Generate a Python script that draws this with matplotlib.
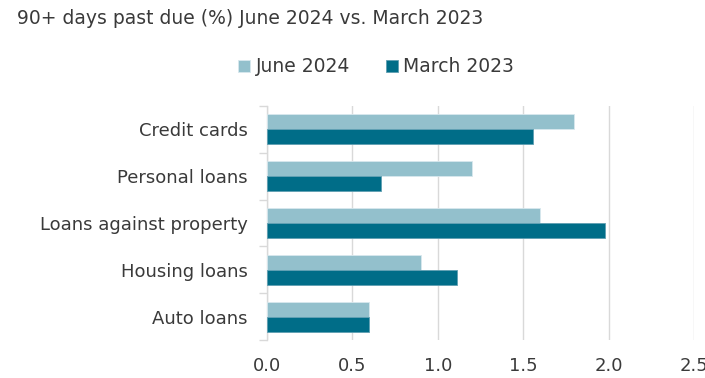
import matplotlib
matplotlib.use("Agg")
import matplotlib.pyplot as plt
import numpy as np

plt.rcParams['font.family'] = ['DejaVu Sans']

categories = ["Credit cards", "Personal loans", "Loans against property", "Housing loans", "Auto loans"]
june_2024 = [1.80, 1.20, 1.60, 0.90, 0.60]
march_2023 = [1.56, 0.67, 1.98, 1.11, 0.60]
xticks = [0.0, 0.5, 1.0, 1.5, 2.0, 2.5]

c_june = "#93C0CC"
c_march = "#006D88"
text_c = "#3a3a3a"

fig = plt.figure(figsize=(7.05, 3.78), dpi=100)
ax = fig.add_axes([267/705, 1 - 340/378, (694 - 267)/705, (340 - 106)/378])

y = np.arange(len(categories))[::-1].astype(float)
h = 0.32
ax.barh(y + h/2, june_2024, height=h, color=c_june, edgecolor="#d8e8ee", linewidth=0.6, label="June 2024", zorder=3)
ax.barh(y - h/2, march_2023, height=h, color=c_march, edgecolor="#5f9fb2", linewidth=0.6, label="March 2023", zorder=3)

ax.set_xlim(0, 2.5)
ax.set_ylim(-0.5, len(categories) - 0.5)
ax.set_xticks(xticks)
ax.set_xticklabels([f"{t:.1f}" for t in xticks], fontsize=13, color=text_c)
ax.set_yticks(y)
ax.set_yticklabels(categories, fontsize=13, color=text_c)
ax.set_yticks(np.arange(len(categories) + 1) - 0.5, minor=True)
ax.tick_params(axis="y", which="major", length=0, pad=14)
ax.tick_params(axis="y", which="minor", length=6, color="#d9d9d9", width=1)
ax.tick_params(axis="x", length=0, pad=12)

ax.grid(axis="x", color="#d9d9d9", linewidth=1, zorder=0)
for s in ["top", "right", "bottom"]:
    ax.spines[s].set_visible(False)
ax.spines["left"].set_color("#d9d9d9")
ax.spines["left"].set_linewidth(1)

fig.text(17/705, 1 - 18/378, "90+ days past due (%) June 2024 vs. March 2023",
         fontsize=13.5, color=text_c, ha="left", va="center")

leg = fig.legend(loc="center", bbox_to_anchor=(376/705, 1 - 67/378), ncol=2, frameon=False,
                 prop={"size": 13.5}, handlelength=0.65, handleheight=0.65,
                 handletextpad=0.3, columnspacing=1.9)
for t in leg.get_texts():
    t.set_color(text_c)

fig.savefig("out.png", dpi=100)
